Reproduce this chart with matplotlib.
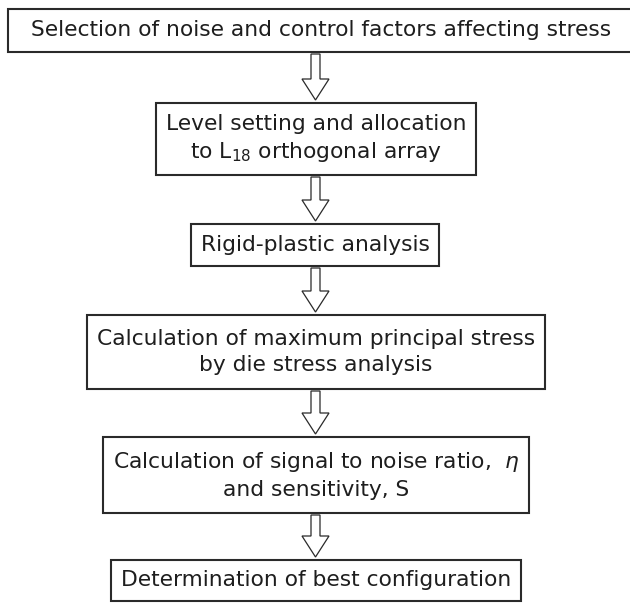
import matplotlib.pyplot as plt
from matplotlib import patches

# flowchart steps (text of each box, top to bottom)
steps = [
    'Selection of noise and control factors affecting stress',
    'Level setting and allocation\nto L$_{18}$ orthogonal array',
    'Rigid-plastic analysis',
    'Calculation of maximum principal stress\nby die stress analysis',
    'Calculation of signal to noise ratio,  $\\eta$\nand sensitivity, S',
    'Determination of best configuration',
]

# layout in pixels
box_top = [9, 103, 224, 315, 437, 560]
box_bottom = [52, 175, 266, 389, 513, 601]
text_x = [321, 316, 315, 316, 316, 316]
arrow_x = 315.5
pad = 10

W, H = 630, 603
fig = plt.figure(figsize=(W / 100, H / 100), dpi=100)
ax = fig.add_axes([0, 0, 1, 1])
ax.set_xlim(0, W)
ax.set_ylim(H, 0)
ax.axis('off')

# fit font size so the first line spans like the original
probe = ax.text(0, 0, steps[0], fontsize=10, family='DejaVu Sans')
fig.canvas.draw()
w = probe.get_window_extent().width
probe.remove()
fs = 10 * 580 / w

texts = []
for i, s in enumerate(steps):
    t = ax.text(text_x[i], (box_top[i] + box_bottom[i]) / 2, s,
                ha='center', va='center', fontsize=fs, color='#1e1e1e',
                family='DejaVu Sans', linespacing=1.38, zorder=3)
    texts.append(t)

fig.canvas.draw()
renderer = fig.canvas.get_renderer()
inv = ax.transData.inverted()
for i, t in enumerate(texts):
    bb = t.get_window_extent(renderer)
    x0 = inv.transform((bb.x0, 0))[0] - pad
    x1 = inv.transform((bb.x1, 0))[0] + pad
    if i == 0:
        x0, x1 = 8, W + 10
    rect = patches.Rectangle((x0, box_top[i]), x1 - x0,
                             box_bottom[i] - box_top[i],
                             facecolor='white', edgecolor='#2a2a2a',
                             linewidth=1.5, zorder=1)
    ax.add_patch(rect)

# hollow arrows between boxes
for i in range(len(steps) - 1):
    y0 = box_bottom[i] + 2
    y1 = box_top[i + 1] - 3
    arr = patches.FancyArrow(arrow_x, y0, 0, y1 - y0, width=9, head_width=27,
                             head_length=21, length_includes_head=True,
                             facecolor='white', edgecolor='#2a2a2a',
                             linewidth=0.9, zorder=2)
    ax.add_patch(arr)

plt.savefig('out.png', dpi=100)
